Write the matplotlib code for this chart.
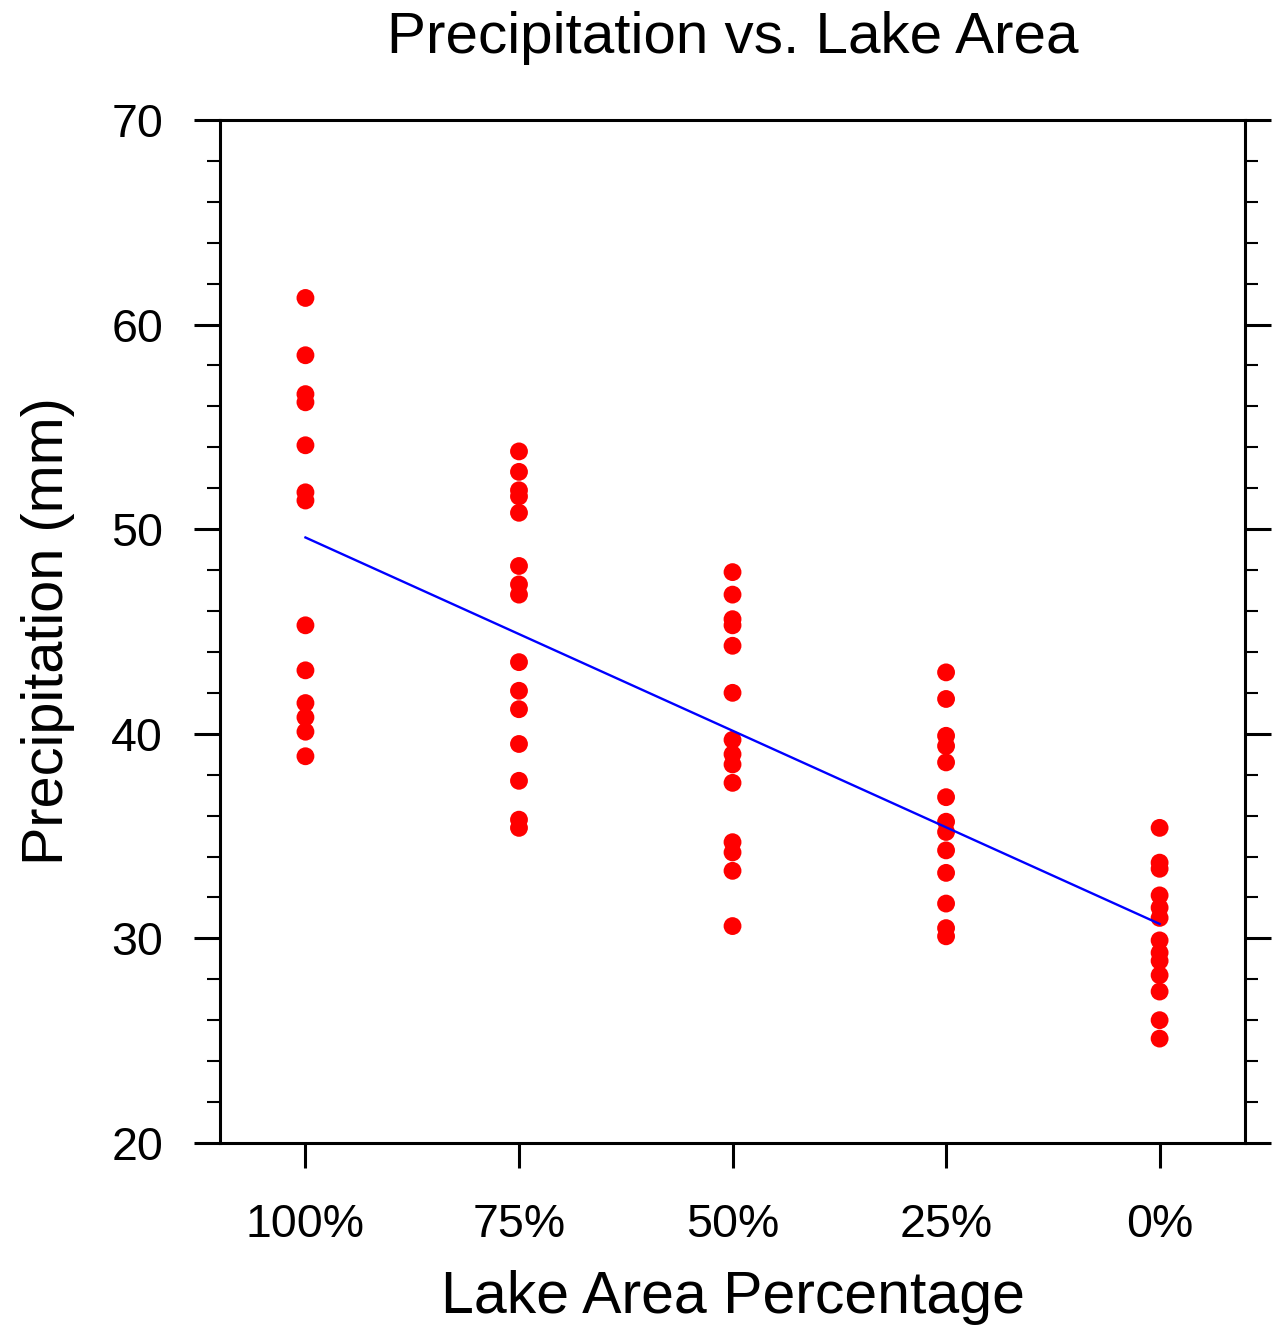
import numpy as np
import matplotlib.pyplot as plt
from matplotlib.ticker import MultipleLocator

plt.rcParams["font.family"] = ["Liberation Sans", "DejaVu Sans"]

categories = ["100%", "75%", "50%", "25%", "0%"]

# precipitation (mm) per lake area scenario
precip_100 = [61.3, 58.5, 56.6, 56.2, 54.1, 51.8, 51.4, 45.3, 43.1,
              41.5, 40.8, 40.1, 38.9]
precip_75 = [53.8, 52.8, 51.9, 51.6, 50.8, 48.2, 47.3, 46.8, 43.5,
             42.1, 41.2, 39.5, 37.7, 35.8, 35.4]
precip_50 = [47.9, 46.8, 45.6, 45.3, 44.3, 42.0, 39.7, 39.0, 38.5,
             37.6, 34.7, 34.2, 33.3, 30.6]
precip_25 = [43.0, 41.7, 39.9, 39.4, 38.6, 36.9, 35.7, 35.2, 34.3,
             33.2, 31.7, 30.5, 30.1]
precip_0 = [35.4, 33.7, 33.4, 32.1, 31.5, 31.0, 29.9, 29.3, 28.9,
            28.2, 27.4, 26.0, 25.1]

groups = [precip_100, precip_75, precip_50, precip_25, precip_0]

fig = plt.figure(figsize=(12.83, 13.27), dpi=100)
ax = fig.add_axes([0.1715, 0.1387, 0.7989, 0.7709])

xs = []
ys = []
for i, vals in enumerate(groups):
    xs += [i] * len(vals)
    ys += vals
    ax.scatter([i] * len(vals), vals, s=165, color="red", edgecolors="none",
               zorder=2)

# least squares trend line
slope, intercept = np.polyfit(xs, ys, 1)
xl = np.array([0, len(groups) - 1])
ax.plot(xl, slope * xl + intercept, color="blue", lw=1.7, zorder=3)

ax.set_xlim(-0.4, 4.4)
ax.set_ylim(20, 70)
ax.set_xticks(range(len(categories)))
ax.set_xticklabels(categories)
ax.yaxis.set_major_locator(MultipleLocator(10))
ax.yaxis.set_minor_locator(MultipleLocator(2))

for sp in ax.spines.values():
    sp.set_linewidth(2.2)

ax.tick_params(axis="y", which="major", direction="out", length=19, width=2.2,
               labelsize=33.5, pad=22, left=True, right=True)
ax.tick_params(axis="y", which="minor", direction="out", length=9.5, width=1.5,
               left=True, right=True)
ax.tick_params(axis="x", which="major", direction="out", length=18, width=2.2,
               labelsize=33.5, pad=25, top=False)

ax.set_title("Precipitation vs. Lake Area", fontsize=42, pad=48)
ax.set_xlabel("Lake Area Percentage", fontsize=42.5, labelpad=17)
ax.set_ylabel("Precipitation (mm)", fontsize=41.5, labelpad=26)

fig.savefig("out.png", dpi=100)
